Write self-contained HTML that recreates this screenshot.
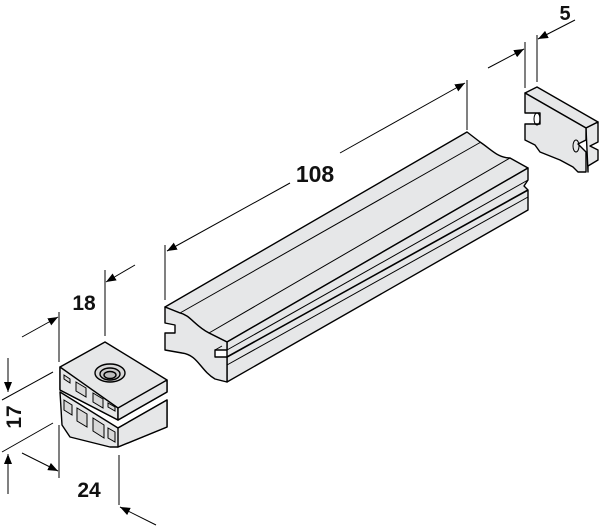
<!DOCTYPE html>
<html><head><meta charset="utf-8"><style>
html,body{margin:0;padding:0;background:#fff;}
svg{display:block;}
text{font-family:"Liberation Sans",Arial,sans-serif;font-weight:bold;fill:#111;}
</style></head><body>
<svg width="600" height="529" viewBox="0 0 600 529" xmlns="http://www.w3.org/2000/svg">
<defs>
<marker id="ah" markerWidth="10" markerHeight="8" refX="10" refY="4" orient="auto" markerUnits="userSpaceOnUse">
<path d="M0,0 L10,4 L0,8 Z" fill="#000"/>
</marker>
</defs>
<g stroke="#000" stroke-width="1" fill="none">
<line x1="165" y1="245" x2="165" y2="300"/>
<line x1="467" y1="80" x2="467" y2="130"/>
<line x1="290" y1="183" x2="167" y2="251" marker-end="url(#ah)"/>
<line x1="340" y1="153" x2="465" y2="83" marker-end="url(#ah)"/>
<line x1="525" y1="42" x2="525" y2="88"/>
<line x1="537" y1="35" x2="537" y2="82"/>
<line x1="488" y1="68" x2="524" y2="49" marker-end="url(#ah)"/>
<line x1="575" y1="20" x2="538" y2="39" marker-end="url(#ah)"/>
<line x1="59" y1="312" x2="59" y2="362"/>
<line x1="105" y1="270" x2="105" y2="336"/>
<line x1="22" y1="337" x2="58" y2="317" marker-end="url(#ah)"/>
<line x1="135" y1="265" x2="106" y2="282" marker-end="url(#ah)"/>
<line x1="53" y1="372" x2="2" y2="400"/>
<line x1="53" y1="423" x2="2" y2="452"/>
<line x1="8" y1="358" x2="8" y2="392" marker-end="url(#ah)"/>
<line x1="8" y1="494" x2="8" y2="454" marker-end="url(#ah)"/>
<line x1="59" y1="425" x2="59" y2="478"/>
<line x1="119" y1="455" x2="119" y2="505"/>
<line x1="22" y1="453" x2="58" y2="471" marker-end="url(#ah)"/>
<line x1="156" y1="525" x2="120" y2="507" marker-end="url(#ah)"/>
</g>
<text x="315" y="182" font-size="23" text-anchor="middle">108</text>
<text x="565" y="20" font-size="20" text-anchor="middle">5</text>
<text x="84" y="310" font-size="21" text-anchor="middle">18</text>
<text x="89" y="497" font-size="21" text-anchor="middle">24</text>
<text x="0" y="0" font-size="21" text-anchor="middle" transform="translate(21,417) rotate(-90)">17</text>

<g stroke="#000" stroke-width="1.4" fill="#e6e7e8" stroke-linejoin="round">
<path d="M165,307 L467,132 L480,142 C492,150 498,158 510,158 L528,168 L227,342 L209,333 C195,326 190,315 180,313 Z"/>
<path d="M227,342 L528,168 L528,180 L524,186 L528,190 L528,210 L227,382 Z"/>
<path d="M165,307 L180,313 C190,315 195,326 209,333 L227,342 L227,350 L215,350 L215,357 L227,357 L227,382 L215,379 C200,370 198,355 182,353 L165,350 L165,333 L175,333 L175,325 L165,323 Z"/>
</g>
<g stroke="#000" stroke-width="1" fill="none">
<line x1="180" y1="313" x2="481" y2="142"/>
<line x1="209" y1="333" x2="510" y2="158"/>
<line x1="227" y1="350" x2="528" y2="180"/>
<line x1="227" y1="357" x2="528" y2="190" stroke-width="1.6"/>
<line x1="227" y1="365" x2="528" y2="197"/>
<line x1="215" y1="350" x2="222" y2="346"/>
</g>

<!-- Cube -->
<g stroke="#000" stroke-width="1.4" fill="#e6e7e8" stroke-linejoin="round">
<path d="M60,392 L118,428 L167,400 L167,427 L118,447 L110,447 L70,437 L62,425 L60,392 Z"/>
<path d="M118,428 L167,400 L167,427 L118,447 Z"/>
<path d="M60,367 L105,342 L167,380 L167,392 L118,420 L60,390 Z"/>
<path d="M60,367 L118,408 L118,420 L60,390 Z"/>
<path d="M118,408 L167,380 L167,392 L118,420 Z"/>
<ellipse cx="110" cy="373" rx="15" ry="9" fill="#d8d8d8"/>
<ellipse cx="110" cy="374" rx="10" ry="6" fill="#c8c8c8"/>
<ellipse cx="110" cy="375" rx="6" ry="3.5" fill="#bbb"/>
</g>
<g stroke="#000" stroke-width="1" fill="#d8d8d8">
<path d="M64,375 L70,379 L70,383 L64,379 Z"/>
<path d="M76,382 L86,388 L86,397 L76,391 Z"/>
<path d="M93,393 L103,399 L103,408 L93,402 Z"/>
<path d="M108,403 L115,407 L115,411 L108,407 Z"/>
<path d="M64,400 L72,405 L72,415 L64,410 Z"/>
<path d="M77,408 L87,414 L87,427 L77,421 Z"/>
<path d="M93,418 L104,425 L104,438 L93,431 Z"/>
<path d="M108,428 L115,432 L115,442 L108,438 Z"/>
</g>

<g stroke="#000" stroke-width="1.4" fill="#e6e7e8" stroke-linejoin="round">
<path d="M525,93 L537,87 L598,122 L586,128 Z"/>
<path d="M586,128 L598,122 L598,142 L590,146 L598,150 L598,160 L588,166 L588,172 Z"/>
<path d="M525,93 L586,128 L586,140 L578,144 L586,152 L586,172 L578,172 L573,167 L560,160 L540,152 L535,145 L525,140 L525,124 L540,124 L540,113 L525,113 Z"/>
</g>
<g stroke="#000" stroke-width="1" fill="none">
<ellipse cx="537" cy="119" rx="3" ry="6"/>
<ellipse cx="576" cy="146" rx="3" ry="6"/>
</g>
</svg>
</body></html>
